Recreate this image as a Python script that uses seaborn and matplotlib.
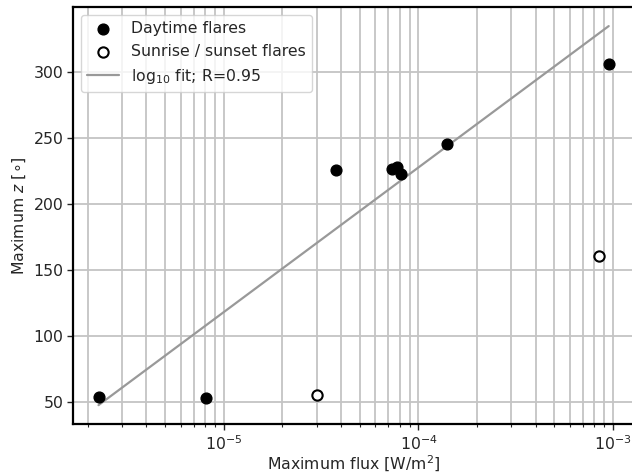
import numpy as np
import pandas as pd
import matplotlib
matplotlib.use("Agg")
import matplotlib.pyplot as plt
import seaborn as sns

# daytime flares
day_flux = [2.27e-6, 8.1e-6, 3.77e-5, 7.33e-5, 7.72e-5, 8.1e-5, 1.40e-4, 9.5e-4]
day_z = [54, 53, 226.2, 226.5, 228.5, 222.7, 245.6, 306.6]

# sunrise / sunset flares
edge_flux = [3.0e-5, 8.5e-4]
edge_z = [55.3, 160.5]

sns.set_style("ticks")
plt.rcParams['font.family'] = ['DejaVu Sans']
fs = 11.3

# log10 fit on daytime flares
lx = np.log10(day_flux)
slope, icpt = np.polyfit(lx, day_z, 1)
r = np.corrcoef(lx, day_z)[0, 1]
fit_x = np.array([min(day_flux), max(day_flux)])
fit_y = icpt + slope * np.log10(fit_x)

fig = plt.figure(figsize=(6.32, 4.76), dpi=100)
ax = fig.add_axes([0.1155, 0.109, 0.888, 0.876])

df_day = pd.DataFrame({"flux": day_flux, "z": day_z})
df_edge = pd.DataFrame({"flux": edge_flux, "z": edge_z})

sns.scatterplot(data=df_day, x="flux", y="z", ax=ax, color="black", s=60,
                edgecolor="black", linewidth=1, label="Daytime flares", zorder=3)
sns.scatterplot(data=df_edge, x="flux", y="z", ax=ax, color="white", s=55,
                edgecolor="black", linewidth=1.5, label="Sunrise / sunset flares", zorder=3)
ax.plot(fit_x, fit_y, color="#999999", lw=1.6, label=f"log$_{{10}}$ fit; R={r:.2f}", zorder=2)

ax.set_xscale("log")
ax.margins(0.05)
ax.grid(True, which="both", axis="x", color="#c4c4c4", lw=1.3)
ax.grid(True, which="major", axis="y", color="#c4c4c4", lw=1.3)
ax.set_axisbelow(True)

for side in ["left", "bottom", "top"]:
    ax.spines[side].set_linewidth(1.6)
    ax.spines[side].set_color("black")
ax.spines["right"].set_visible(False)

ax.tick_params(axis="both", which="major", direction="out", length=4, width=1,
               labelsize=fs, pad=3)
ax.tick_params(axis="x", which="minor", direction="out", length=2.5, width=0.8)

ax.set_xlabel("Maximum flux [W/m$^2$]", fontsize=fs, labelpad=1)
ax.set_ylabel(r"Maximum $z$ [$\circ$]", fontsize=fs, labelpad=4)

leg = ax.legend(loc="upper left", fontsize=fs, frameon=True, fancybox=True,
                borderaxespad=0.5)
leg.get_frame().set_edgecolor("#cccccc")

fig.savefig("out.png", dpi=100)
